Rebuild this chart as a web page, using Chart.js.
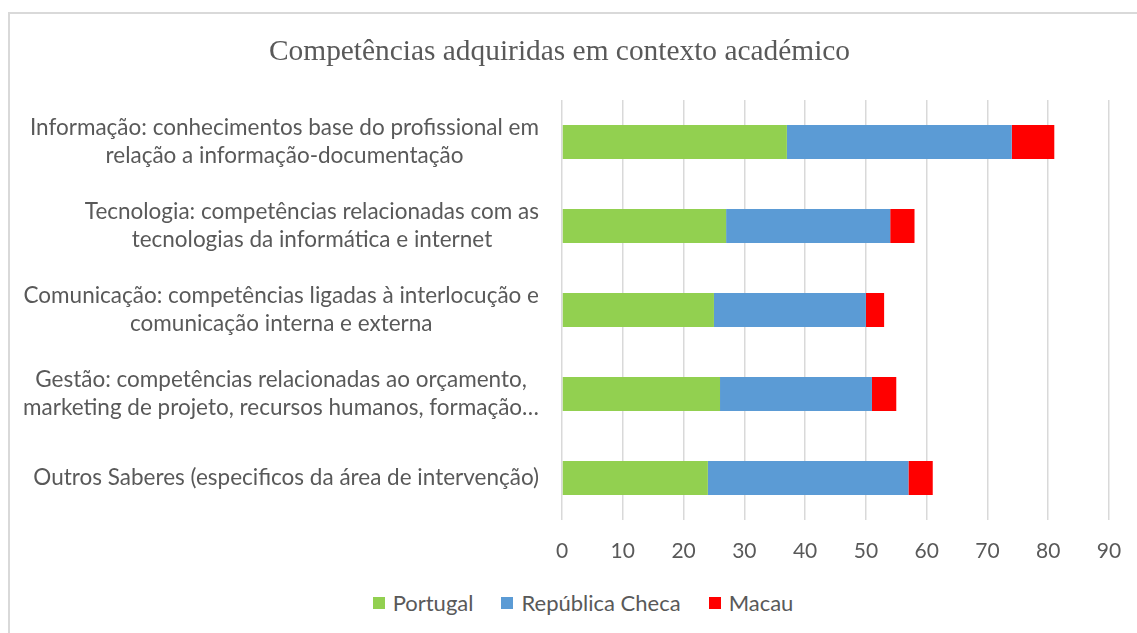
<!DOCTYPE html>
<html lang="pt">
  <head>
    <meta charset="UTF-8">
    <title>Competências adquiridas em contexto académico</title>
    <script src="https://cdn.jsdelivr.net/npm/chart.js"></script>
    <style>
      html, body { margin: 0; padding: 0; background: #fff; overflow: hidden; }
      #frame {
        position: absolute;
        left: 8px;
        top: 12px;
        border: 2px solid #d9d9d9;
        width: 1140px;
        height: 640px;
      }
      canvas { display: block; }
      #legend {
        position: absolute;
        left: 3px;
        width: 1140px;
        top: 576px;
        display: flex;
        justify-content: center;
        font: 22px Lato, sans-serif;
        line-height: 26px;
        color: #595959;
      }
      #legend .item { display: flex; align-items: center; margin: 0 14px; }
      #legend .box { width: 12px; height: 12px; margin-right: 8px; }
    </style>
  </head>
  <body>
    <div id="frame">
      <canvas id="myChart" width="1140" height="569"></canvas>
      <div id="legend"></div>
    </div>

    <script>
      // Category labels (one array of lines per category)
      const categories = [
        ["Informação: conhecimentos base do profissional em", "relação a informação-documentação"],
        ["Tecnologia: competências relacionadas com as", "tecnologias da informática e internet"],
        ["Comunicação: competências ligadas à interlocução e", "comunicação interna e externa"],
        ["Gestão: competências relacionadas ao orçamento,", "marketing de projeto, recursos humanos, formação…"],
        ["Outros Saberes (especificos da área de intervenção)"]
      ];

      // Series values
      const portugal = [37, 27, 25, 26, 24];
      const republicaCheca = [37, 27, 25, 25, 33];
      const macau = [7, 4, 3, 4, 4];

      // Axis ticks
      const xMin = 0;
      const xMax = 90;
      const xStep = 10;

      const textColor = "#595959";
      const labelFont = "Lato";

      // Draws the wrapped category labels, lines centred inside a right-aligned block
      const categoryLabels = {
        id: "categoryLabels",
        afterDraw(chart) {
          const { ctx, scales: { y }, chartArea } = chart;
          const right = chartArea.left - 23;
          const lineGap = 28.5;
          ctx.save();
          ctx.font = "22.5px " + labelFont;
          ctx.fillStyle = textColor;
          ctx.textAlign = "center";
          ctx.textBaseline = "middle";
          categories.forEach((lines, i) => {
            const yc = y.getPixelForTick(i);
            const w = Math.max(...lines.map(l => ctx.measureText(l).width));
            const cx = right - w / 2;
            lines.forEach((l, j) => {
              ctx.fillText(l, cx, yc + (j - (lines.length - 1) / 2) * lineGap);
            });
          });
          ctx.restore();
        }
      };

      // HTML legend built from the chart's datasets
      const htmlLegend = {
        id: "htmlLegend",
        afterUpdate(chart) {
          const box = document.getElementById("legend");
          box.innerHTML = "";
          chart.data.datasets.forEach(ds => {
            const item = document.createElement("span");
            item.className = "item";
            const swatch = document.createElement("span");
            swatch.className = "box";
            swatch.style.background = ds.backgroundColor;
            const text = document.createElement("span");
            text.textContent = ds.label;
            item.appendChild(swatch);
            item.appendChild(text);
            box.appendChild(item);
          });
        }
      };

      const ctx = document.getElementById("myChart").getContext("2d");
      new Chart(ctx, {
        type: "bar",
        data: {
          labels: categories,
          datasets: [
            { label: "Portugal", data: portugal, backgroundColor: "#92d050" },
            { label: "República Checa", data: republicaCheca, backgroundColor: "#5b9bd5" },
            { label: "Macau", data: macau, backgroundColor: "#ff0000" }
          ]
        },
        options: {
          indexAxis: "y",
          responsive: false,
          animation: false,
          datasets: {
            bar: { barPercentage: 0.405, categoryPercentage: 1, borderWidth: 0 }
          },
          layout: { padding: { left: 0, right: 41, top: 0, bottom: 0 } },
          scales: {
            x: {
              stacked: true,
              min: xMin,
              max: xMax,
              border: { display: false },
              grid: { color: "#d9d9d9", lineWidth: 1.5, drawTicks: false },
              ticks: {
                stepSize: xStep,
                padding: 18.9,
                color: textColor,
                font: { family: labelFont, size: 21 }
              }
            },
            y: {
              stacked: true,
              border: { display: false },
              grid: { display: false },
              ticks: { display: false },
              afterFit(scale) { scale.width = 552; }
            }
          },
          plugins: {
            title: {
              display: true,
              text: "Competências adquiridas em contexto académico",
              color: textColor,
              font: { family: "Liberation Serif", size: 29.4, weight: "normal" },
              padding: { top: 20.4, bottom: 30.3 }
            },
            legend: { display: false },
            tooltip: { enabled: false }
          }
        },
        plugins: [categoryLabels, htmlLegend]
      });
    </script>
  </body>
</html>
